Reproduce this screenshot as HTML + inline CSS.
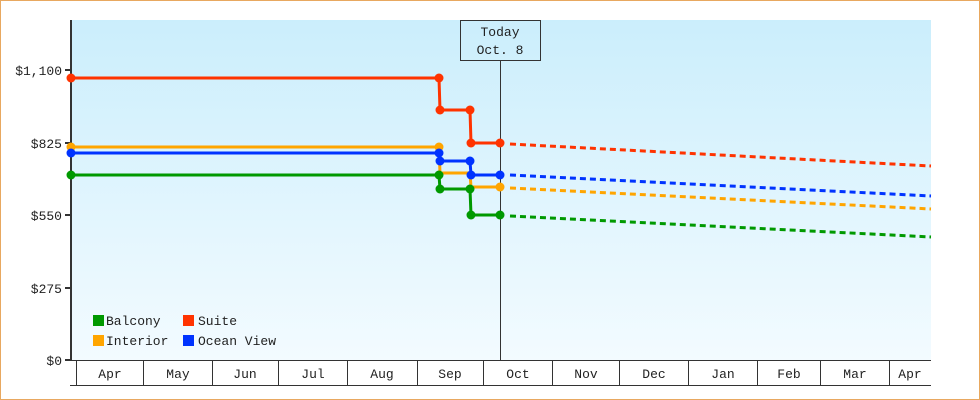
<!DOCTYPE html>
<html><head><meta charset="utf-8"><style>
body{margin:0;background:#fff}
svg{display:block}
text{font-family:"Liberation Mono","DejaVu Sans Mono",monospace;font-size:13px;fill:#222}
</style></head><body>
<svg width="980" height="400" viewBox="0 0 980 400" xmlns="http://www.w3.org/2000/svg">
<defs><linearGradient id="g" x1="0" y1="0" x2="0" y2="1"><stop offset="0" stop-color="#cbeefc"/><stop offset="1" stop-color="#f3fbff"/></linearGradient></defs>
<rect x="0.5" y="0.5" width="979" height="399" fill="#fff" stroke="#e8a860"/>
<rect x="71" y="20" width="860" height="340" fill="url(#g)"/>
<line x1="71" y1="20" x2="71" y2="361" stroke="#333" stroke-width="2"/>
<g stroke="#333" stroke-width="2">
<line x1="65" y1="70" x2="71" y2="70"/><line x1="65" y1="143" x2="71" y2="143"/><line x1="65" y1="215" x2="71" y2="215"/><line x1="65" y1="288" x2="71" y2="288"/><line x1="65" y1="360" x2="71" y2="360"/>
</g>
<g text-anchor="end"><text x="62" y="75">$1,100</text><text x="62" y="148">$825</text><text x="62" y="220">$550</text><text x="62" y="293">$275</text><text x="62" y="365">$0</text></g>
<g stroke="#333" stroke-width="1"><line x1="71" y1="360.5" x2="931" y2="360.5"/><line x1="70" y1="385.5" x2="931" y2="385.5"/>
<line x1="76.5" y1="360" x2="76.5" y2="385"/><line x1="143.5" y1="360" x2="143.5" y2="385"/><line x1="212.5" y1="360" x2="212.5" y2="385"/><line x1="278.5" y1="360" x2="278.5" y2="385"/><line x1="347.5" y1="360" x2="347.5" y2="385"/><line x1="417.5" y1="360" x2="417.5" y2="385"/><line x1="483.5" y1="360" x2="483.5" y2="385"/><line x1="552.5" y1="360" x2="552.5" y2="385"/><line x1="619.5" y1="360" x2="619.5" y2="385"/><line x1="688.5" y1="360" x2="688.5" y2="385"/><line x1="757.5" y1="360" x2="757.5" y2="385"/><line x1="820.5" y1="360" x2="820.5" y2="385"/><line x1="889.5" y1="360" x2="889.5" y2="385"/></g>
<g text-anchor="middle"><text x="110" y="378">Apr</text><text x="178" y="378">May</text><text x="245" y="378">Jun</text><text x="313" y="378">Jul</text><text x="382" y="378">Aug</text><text x="450" y="378">Sep</text><text x="518" y="378">Oct</text><text x="586" y="378">Nov</text><text x="654" y="378">Dec</text><text x="723" y="378">Jan</text><text x="789" y="378">Feb</text><text x="855" y="378">Mar</text><text x="910" y="378">Apr</text></g>
<line x1="500.5" y1="60" x2="500.5" y2="360" stroke="#333"/>
<rect x="460.5" y="20.5" width="80" height="40" fill="none" stroke="#333"/>
<text x="500" y="36" text-anchor="middle">Today</text><text x="500" y="54" text-anchor="middle">Oct. 8</text>
<g fill="none" stroke-width="3">
<polyline stroke="#009900" points="71,175 439,175 440,189 470,189 471,215 500,215"/>
<polyline stroke="#ffa500" points="71,147 439,147 440,173 470,173 471,187 500,187"/>
<polyline stroke="#0033ff" points="71,153 439,153 440,161 470,161 471,175 500,175"/>
<polyline stroke="#ff3300" points="71,78 439,78 440,110 470,110 471,143 500,143"/>
<g stroke-dasharray="6,4">
<line stroke="#009900" x1="510" y1="216" x2="931" y2="237"/>
<line stroke="#ffa500" x1="510" y1="188" x2="931" y2="209"/>
<line stroke="#0033ff" x1="510" y1="175" x2="931" y2="196"/>
<line stroke="#ff3300" x1="510" y1="144" x2="931" y2="166"/>
</g></g>
<g>
<g fill="#ffa500"><circle cx="71" cy="147" r="4.5"/><circle cx="439" cy="147" r="4.5"/><circle cx="500" cy="187" r="4.5"/></g>
<g fill="#009900"><circle cx="71" cy="175" r="4.5"/><circle cx="439" cy="175" r="4.5"/><circle cx="440" cy="189" r="4.5"/><circle cx="470" cy="189" r="4.5"/><circle cx="471" cy="215" r="4.5"/><circle cx="500" cy="215" r="4.5"/></g>
<g fill="#0033ff"><circle cx="71" cy="153" r="4.5"/><circle cx="439" cy="153" r="4.5"/><circle cx="440" cy="161" r="4.5"/><circle cx="470" cy="161" r="4.5"/><circle cx="471" cy="175" r="4.5"/><circle cx="500" cy="175" r="4.5"/></g>
<g fill="#ff3300"><circle cx="71" cy="78" r="4.5"/><circle cx="439" cy="78" r="4.5"/><circle cx="440" cy="110" r="4.5"/><circle cx="470" cy="110" r="4.5"/><circle cx="471" cy="143" r="4.5"/><circle cx="500" cy="143" r="4.5"/></g>
</g>
<rect x="93" y="315" width="11" height="11" fill="#009900"/><text x="106" y="325">Balcony</text>
<rect x="183" y="315" width="11" height="11" fill="#ff3300"/><text x="198" y="325">Suite</text>
<rect x="93" y="335" width="11" height="11" fill="#ffa500"/><text x="106" y="345">Interior</text>
<rect x="183" y="335" width="11" height="11" fill="#0033ff"/><text x="198" y="345">Ocean View</text>
</svg>
</body></html>
